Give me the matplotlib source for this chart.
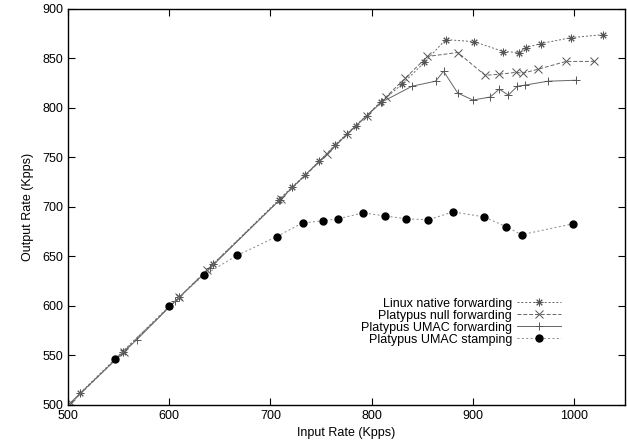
import numpy as np
import matplotlib
matplotlib.use('Agg')
import matplotlib.pyplot as plt

# Linux native forwarding
lin_x = [512, 554, 610, 643, 708, 721, 734, 748, 764, 784, 809, 830, 852, 873,
         901, 930, 945, 952, 967, 997, 1028]
lin_y = [512, 554, 609, 642, 707, 720, 732, 746, 763, 782, 806, 824, 846, 869,
         867, 857, 856, 861, 865, 871, 874]

# Platypus null forwarding
null_x = [503, 555, 610, 637, 710, 756, 776, 795, 814, 833, 855, 885, 912, 926,
          943, 949, 964, 992, 1020]
null_y = [502, 554, 609, 636, 708, 753, 774, 792, 811, 830, 852, 856, 833, 834,
          836, 835, 839, 847, 847]

# Platypus UMAC forwarding
umac_x = [500, 568, 606, 640, 709, 776, 795, 810, 840, 863, 871, 885, 900, 917,
          926, 935, 944, 951, 974, 1002]
umac_y = [500, 566, 605, 638, 707, 774, 792, 806, 822, 827, 837, 815, 808, 811,
          819, 813, 822, 823, 827, 828]

# Platypus UMAC stamping
stamp_x = [546, 600, 634, 667, 706, 732, 752, 767, 791, 813, 834, 856, 880, 911,
           933, 948, 999]
stamp_y = [546, 600, 631, 651, 670, 684, 686, 688, 694, 691, 688, 687, 695, 690,
           680, 672, 683]

plt.rcParams['font.family'] = ['Liberation Sans', 'DejaVu Sans']

fig = plt.figure(figsize=(6.27, 4.47), dpi=100)
ax = fig.add_axes([0.1085, 0.094, 0.888, 0.886])

lc = '#666666'
mc = '#555555'
ax.plot(lin_x, lin_y, color=lc, lw=0.7, linestyle=(0, (2, 2)),
        marker=(8, 2, 0), ms=5.5, mew=0.7, mec=mc,
        label='Linux native forwarding')
ax.plot(null_x, null_y, color=lc, lw=0.7, linestyle=(0, (4, 2)),
        marker='x', ms=5.5, mew=0.7, mec=mc,
        label='Platypus null forwarding')
ax.plot(umac_x, umac_y, color=lc, lw=0.7, linestyle='-',
        marker='+', ms=5.5, mew=0.7, mec=mc,
        label='Platypus UMAC forwarding')
ax.plot(stamp_x, stamp_y, color='#888888', lw=0.7, linestyle=(0, (2, 2.5)),
        marker='o', ms=5, mfc='black', mec='black',
        label='Platypus UMAC stamping')

ax.set_xlim(500, 1050)
ax.set_ylim(500, 900)
ax.set_xticks([500, 600, 700, 800, 900, 1000])
ax.set_yticks(np.arange(500, 901, 50))
ax.tick_params(direction='in', top=True, right=True, labelsize=9, length=5,
               width=0.8)
for s in ax.spines.values():
    s.set_linewidth(1.0)

ax.set_xlabel('Input Rate (Kpps)', fontsize=9, labelpad=4)
ax.set_ylabel('Output Rate (Kpps)', fontsize=9, labelpad=6)

ax.legend(loc='lower right', bbox_to_anchor=(0.885, 0.15), markerfirst=False,
          frameon=False, fontsize=9, handlelength=3.5, labelspacing=0.0,
          handletextpad=0.4, borderaxespad=0, borderpad=0)

fig.savefig('out.png', dpi=100)
